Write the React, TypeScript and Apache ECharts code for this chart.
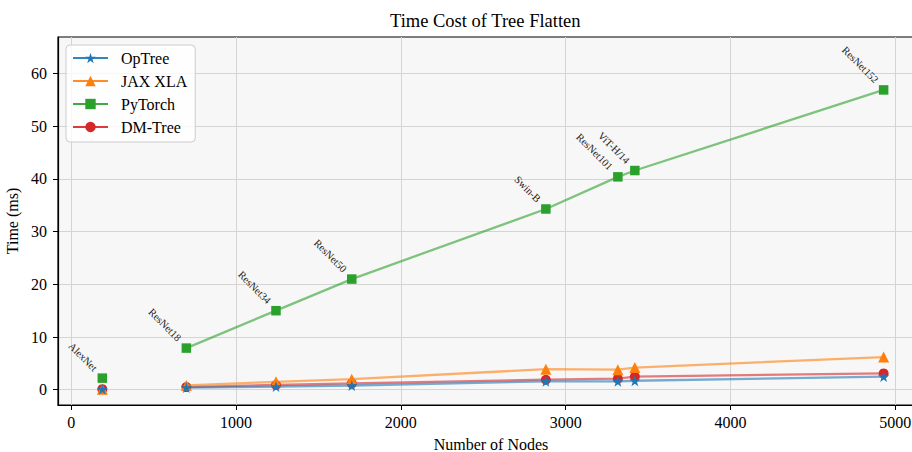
import React, { useEffect, useRef } from "react";
import * as echarts from "echarts";

const models = ["AlexNet", "ResNet18", "ResNet34", "ResNet50", "Swin-B", "ResNet101", "ViT-H/14", "ResNet152"];
const nodes = [188, 698, 1242, 1702, 2880, 3317, 3420, 4930];
const optree = [0.1, 0.4, 0.6, 0.8, 1.6, 1.6, 1.7, 2.5];
const jaxXla = [0.1, 0.8, 1.5, 2.0, 3.9, 3.8, 4.2, 6.2];
const pytorch = [2.2, 7.9, 15.0, 21.0, 34.3, 40.4, 41.6, 56.9];
const dmTree = [0.1, 0.5, 0.9, 1.2, 1.9, 2.1, 2.5, 3.1];

const xTicks = [0, 1000, 2000, 3000, 4000, 5000];
const yTicks = [0, 10, 20, 30, 40, 50, 60];

const STAR = "path://M100,0 L122.45,69.1 L195.1,69.1 L136.3,111.8 L158.8,180.9 L100,138.2 L41.2,180.9 L63.7,111.8 L4.9,69.1 L77.55,69.1 Z";
const FONT = "'Liberation Serif', 'Times New Roman', serif";

function buildData(vals: number[]) {
  // AlexNet is a stand-alone point; the line starts at ResNet18
  const out: any[] = [{ name: models[0], value: [nodes[0], vals[0]] }, { name: "", value: ["-", "-"] }];
  for (let i = 1; i < vals.length; i++) out.push({ name: models[i], value: [nodes[i], vals[i]] });
  return out;
}

export default function App() {
  const ref = useRef<HTMLDivElement>(null);
  useEffect(() => {
    if (!ref.current) return;
    document.body.style.margin = "0";
    document.documentElement.style.overflow = "hidden";
    const chart = echarts.init(ref.current, undefined, { renderer: "svg" });
    const mk = (name: string, vals: number[], color: string, symbol: string, size: number, z: number, labels = false) => ({
      name,
      type: "line",
      data: buildData(vals),
      symbol,
      symbolSize: size,
      z,
      connectNulls: false,
      lineStyle: { color, width: 2.3, opacity: 0.6 },
      itemStyle: { color, opacity: 1 },
      label: labels
        ? {
            show: true,
            formatter: "{b}",
            position: [-6, 0],
            align: "right",
            verticalAlign: "bottom",
            rotate: -45,
            fontFamily: FONT,
            fontSize: 10.5,
            color: "#222",
          }
        : { show: false },
      emphasis: { disabled: true },
    });
    chart.setOption({
      animation: false,
      backgroundColor: "#ffffff",
      title: {
        text: "Time Cost of Tree Flatten",
        left: 390,
        top: 11,
        padding: 0,
        textStyle: { fontFamily: FONT, fontSize: 18.5, fontWeight: "normal", color: "#000" },
      },
      legend: {
        orient: "vertical",
        left: 66,
        top: 45,
        padding: [5, 8, 7, 6],
        itemWidth: 35,
        itemHeight: 13,
        itemGap: 7,
        backgroundColor: "rgba(255,255,255,0.8)",
        borderColor: "#cccccc",
        borderWidth: 1,
        borderRadius: 4,
        data: ["OpTree", "JAX XLA", "PyTorch", "DM-Tree"],
        textStyle: { fontFamily: FONT, fontSize: 16, color: "#000", padding: [0, 0, 0, 8] },
        lineStyle: { opacity: 0.9 },
      },
      grid: {
        left: 58,
        top: 37,
        width: 866,
        height: 368,
        containLabel: false,
        outerBoundsMode: "none",
        show: true,
        backgroundColor: "#f7f7f7",
        borderColor: "#000",
        borderWidth: 1.2,
      },
      xAxis: {
        type: "value",
        min: -81,
        max: 5175,
        splitNumber: 5,
        name: "Number of Nodes",
        nameLocation: "middle",
        nameGap: 31,
        nameTextStyle: { fontFamily: FONT, fontSize: 16, color: "#000" },
        axisLine: { show: true, onZero: false, lineStyle: { color: "#000", width: 1.2 } },
        axisTick: { show: true, inside: false, length: 5, lineStyle: { color: "#000" }, customValues: xTicks },
        axisLabel: {
          fontFamily: FONT,
          fontSize: 16,
          color: "#000",
          margin: 9,
          customValues: xTicks,
          formatter: (v: number) => String(v),
        },
        splitLine: { show: true, lineStyle: { color: "#d4d4d4", width: 1 } },
      },
      yAxis: {
        type: "value",
        min: -2.9,
        max: 66.94,
        splitNumber: 7,
        name: "Time (ms)",
        nameLocation: "middle",
        nameGap: 34,
        nameTextStyle: { fontFamily: FONT, fontSize: 16, color: "#000" },
        axisLine: { show: true, onZero: false, lineStyle: { color: "#000", width: 1.2 } },
        axisTick: { show: true, inside: false, length: 5, lineStyle: { color: "#000" }, customValues: yTicks },
        axisLabel: {
          fontFamily: FONT,
          fontSize: 16,
          color: "#000",
          margin: 11,
          customValues: yTicks,
          formatter: (v: number) => String(v),
        },
        splitLine: { show: true, lineStyle: { color: "#d4d4d4", width: 1 } },
      },
      series: [
        mk("DM-Tree", dmTree, "#d62728", "circle", 10, 2),
        mk("PyTorch", pytorch, "#2ca02c", "rect", 9.5, 3, true),
        mk("JAX XLA", jaxXla, "#ff7f0e", "triangle", 11, 4),
        mk("OpTree", optree, "#1f77b4", STAR, 11, 5),
      ],
    });
    return () => chart.dispose();
  }, []);
  return <div ref={ref} style={{ position: "absolute", left: 0, top: 0, width: 912, height: 452 }} />;
}
